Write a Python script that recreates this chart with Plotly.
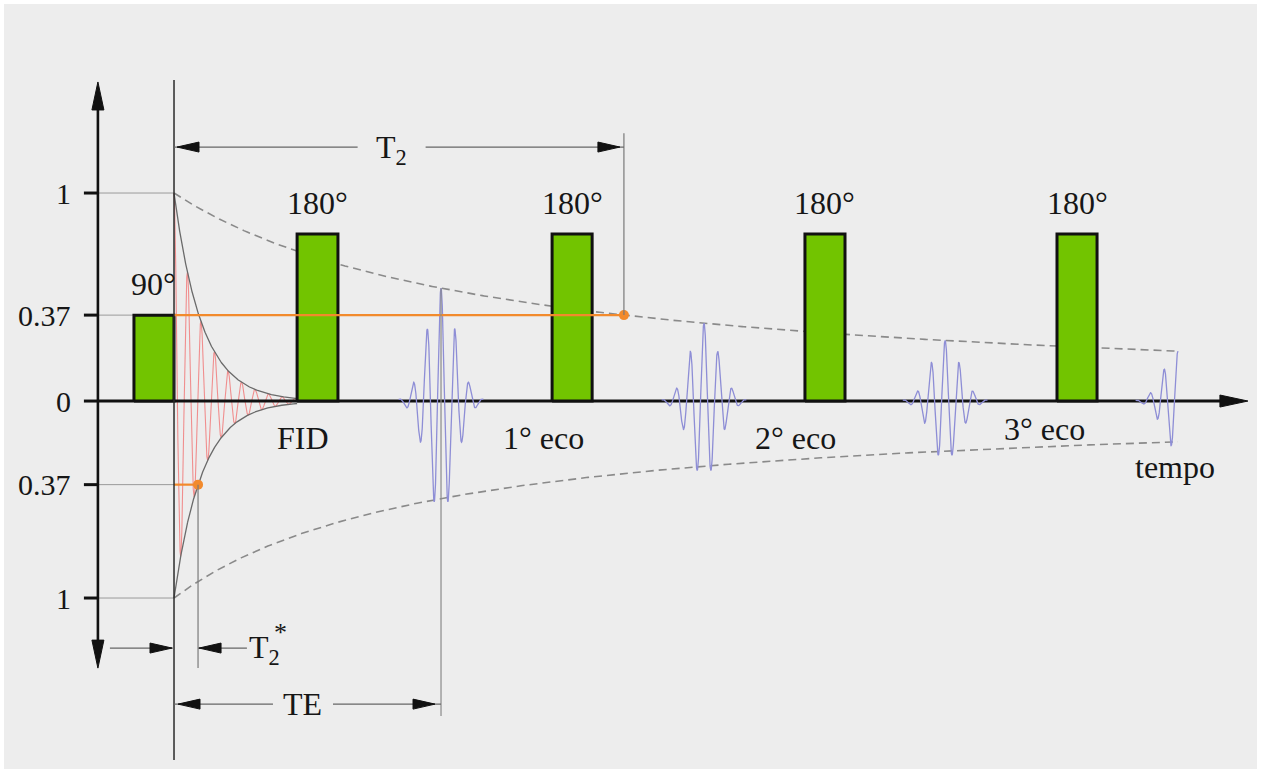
import numpy as np
import plotly.graph_objects as go

W, H = 1265, 774

# Axes: time in ms, amplitude relative to the equilibrium magnetisation
T_RANGE = (-6.517, 40.86)
A_RANGE = (-1.793, 1.928)
PX_T = (T_RANGE[1] - T_RANGE[0]) / W   # ms per screen pixel
PX_A = (A_RANGE[1] - A_RANGE[0]) / H   # amplitude per screen pixel

# RF pulses of the spin-echo train
pulse_labels = ["90°", "180°", "180°", "180°", "180°"]
pulse_start = [-1.50, 4.61, 14.16, 23.63, 33.07]
pulse_end = [0.00, 6.14, 15.66, 25.13, 34.57]
pulse_height = [0.413, 0.803, 0.803, 0.803, 0.803]

# signals
echo_labels = ["FID", "1° eco", "2° eco", "3° eco"]
echo_label_t = [4.83, 13.82, 23.26, 32.62]
echo_label_a = [-0.178, -0.178, -0.178, -0.135]
echo_center = [10.0, 19.85, 28.88, 37.6]

# characteristic times (ms)
TE = 10.0
T2 = 16.85
T2_star = 0.90
t_end = 37.6

# decay shape parameters
env_up_b = 11.86
env_lo_b = 9.81
env_lo_amp = 0.947
fid_tau = 1.05
fid_period = 0.506
echo_sigma = 0.547
echo_period = 0.524

level_labels = ["1", "0.37", "0", "0.37", "1"]

GREEN = "#72c400"
ORANGE = "#f28a2c"
RED = "#f08e8e"
BLUE = "#8e8ed6"
GRAY = "#8a8a8a"
FONT = "Times New Roman, Liberation Serif, DejaVu Serif, serif"


def env_up(t):
    return 1.0 / (1.0 + np.asarray(t) / env_up_b)


def env_lo(t):
    return -env_lo_amp / (1.0 + np.asarray(t) / env_lo_b)


def fid_up(t):
    return np.exp(-np.asarray(t) / fid_tau)


def fid_lo(t):
    return -env_lo_amp * np.exp(-np.asarray(t) / fid_tau)


level_pos = [1.0, float(env_up(T2)), 0.0, float(fid_lo(T2_star)), -env_lo_amp]

fig = go.Figure()


def line(xs, ys, color, width, dash=None):
    fig.add_trace(go.Scatter(x=xs, y=ys, mode="lines",
                             line=dict(color=color, width=width, dash=dash),
                             hoverinfo="skip", showlegend=False))


def arrowhead(tip_t, tip_a, direction, length_px=22, half_px=5, color="#111"):
    """Filled triangle; direction is 'left', 'right', 'up' or 'down'."""
    L_t, L_a = length_px * PX_T, length_px * PX_A
    h_t, h_a = half_px * PX_T, half_px * PX_A
    if direction == "left":
        xs = [tip_t, tip_t + L_t, tip_t + L_t, tip_t]
        ys = [tip_a, tip_a + h_a, tip_a - h_a, tip_a]
    elif direction == "right":
        xs = [tip_t, tip_t - L_t, tip_t - L_t, tip_t]
        ys = [tip_a, tip_a + h_a, tip_a - h_a, tip_a]
    elif direction == "up":
        xs = [tip_t, tip_t - h_t, tip_t + h_t, tip_t]
        ys = [tip_a, tip_a - L_a, tip_a - L_a, tip_a]
    else:
        xs = [tip_t, tip_t - h_t, tip_t + h_t, tip_t]
        ys = [tip_a, tip_a + L_a, tip_a + L_a, tip_a]
    fig.add_trace(go.Scatter(x=xs, y=ys, mode="lines", fill="toself",
                             fillcolor=color, line=dict(color=color, width=1),
                             hoverinfo="skip", showlegend=False))


axis_t = -2.85          # position of the vertical amplitude axis
tick_len = 14 * PX_T

# thin guide lines from the amplitude axis to t = 0
for lv in level_pos:
    if lv != 0:
        line([axis_t, 0], [lv, lv], "#9a9a9a", 1)

# T2 decay envelopes (dashed)
te = np.linspace(0, t_end, 600)
line(te, env_up(te), GRAY, 1.6, "8px,5px")
line(te, env_lo(te), GRAY, 1.6, "8px,5px")

# free induction decay
tf = np.linspace(0, pulse_start[1], 3000)
c = np.cos(2 * np.pi * tf / fid_period)
line(tf, np.where(c > 0, fid_up(tf) * c, -fid_lo(tf) * c), RED, 1.1)
line(tf, fid_up(tf), "#6a6a6a", 1.3)
line(tf, fid_lo(tf), "#6a6a6a", 1.3)

# baseline (time axis)
x_tip = 40.22
line([axis_t, x_tip - 20 * PX_T], [0, 0], "#111", 3)
arrowhead(x_tip, 0, "right", 28, 6)

# spin echoes
for k, tc in enumerate(echo_center):
    amp = float(env_up(tc))
    lo = -2.9 * echo_sigma
    hi = 0.0 if k == len(echo_center) - 1 else 2.9 * echo_sigma
    dt = np.linspace(lo, hi, 800)
    y = amp * np.exp(-dt ** 2 / (2 * echo_sigma ** 2)) * np.cos(2 * np.pi * dt / echo_period)
    line(tc + dt, y, BLUE, 1.3)

# RF pulses
for s, e, h in zip(pulse_start, pulse_end, pulse_height):
    fig.add_trace(go.Scatter(x=[s, s, e, e, s], y=[0, h, h, 0, 0], mode="lines",
                             fill="toself", fillcolor=GREEN,
                             line=dict(color="#111", width=3),
                             hoverinfo="skip", showlegend=False))

# T2 and T2* markers
line([0, T2], [level_pos[1], level_pos[1]], ORANGE, 2.2)
line([0, T2_star], [level_pos[3], level_pos[3]], ORANGE, 2.2)
fig.add_trace(go.Scatter(x=[T2, T2_star], y=[level_pos[1], level_pos[3]], mode="markers",
                         marker=dict(color=ORANGE, size=10), hoverinfo="skip",
                         showlegend=False))

# vertical reference lines
line([0, 0], [1.543, -1.726], "#2a2a2a", 1.5)
line([T2, T2], [level_pos[1], 1.288], "#7a7a7a", 1.2)
line([T2_star, T2_star], [level_pos[3], -1.284], "#7a7a7a", 1.2)
line([TE, TE], [float(env_up(TE)), -1.514], "#8a8a8a", 1.2)

# amplitude axis with arrows at both ends
y_top, y_bot = 1.534, -1.284
line([axis_t, axis_t], [y_top - 20 * PX_A, y_bot + 20 * PX_A], "#111", 2.6)
arrowhead(axis_t, y_top, "up", 28, 6)
arrowhead(axis_t, y_bot, "down", 28, 6)
for lv in level_pos:
    line([axis_t - tick_len, axis_t], [lv, lv], "#111", 3)

# dimension lines: T2, T2*, TE
a_t2 = 1.221
t2_text_t = 8.15
gap = 34 * PX_T
line([0, t2_text_t - gap], [a_t2, a_t2], "#666", 1.3)
line([t2_text_t + gap, T2], [a_t2, a_t2], "#666", 1.3)
arrowhead(0 + 3 * PX_T, a_t2, "left")
arrowhead(T2 - 4 * PX_T, a_t2, "right")

a_t2s = -1.1875
line([-2.4, 0], [a_t2s, a_t2s], "#666", 1.3)
line([T2_star, 2.73], [a_t2s, a_t2s], "#666", 1.3)
arrowhead(0 - 2 * PX_T, a_t2s, "right")
arrowhead(T2_star + 1 * PX_T, a_t2s, "left")

a_te = -1.457
te_text_t = 4.83
gap_te = 30 * PX_T
line([0, te_text_t - gap_te], [a_te, a_te], "#666", 1.3)
line([te_text_t + gap_te, TE], [a_te, a_te], "#666", 1.3)
arrowhead(0 + 4 * PX_T, a_te, "left")
arrowhead(TE - 6 * PX_T, a_te, "right")

# text labels
ann = []


def label(t, a, text, size=32, xanchor="center"):
    ann.append(dict(x=t, y=a, xref="x", yref="y", text=text, showarrow=False,
                    xanchor=xanchor, yanchor="middle",
                    font=dict(family=FONT, size=size, color="#161616")))


for s, e, h, txt in zip(pulse_start, pulse_end, pulse_height, pulse_labels):
    label((s + e) / 2, h + 0.148, txt)
for t, a, txt in zip(echo_label_t, echo_label_a, echo_labels):
    label(t, a, txt)
label(37.49, -0.317, "tempo")
for lv, txt in zip(level_pos, level_labels):
    label(-3.80, lv, txt, size=30, xanchor="right")
label(t2_text_t, a_t2 - 0.01, "T<sub>2</sub>")
label(te_text_t, a_te, "TE")
label(3.40, a_t2s - 0.005, "T<sub>2</sub>")
label(3.98, a_t2s + 0.075, "*", size=26)

fig.update_layout(
    width=W, height=H,
    margin=dict(l=0, r=0, t=0, b=0),
    paper_bgcolor="#ffffff",
    plot_bgcolor="rgba(0,0,0,0)",
    font=dict(family=FONT),
    xaxis=dict(range=list(T_RANGE), visible=False, fixedrange=True),
    yaxis=dict(range=list(A_RANGE), visible=False, fixedrange=True),
    annotations=ann,
    shapes=[dict(type="rect", xref="paper", yref="paper",
                 x0=4 / W, x1=1257 / W, y0=1 - 769 / H, y1=1 - 4 / H,
                 fillcolor="#ededed", line=dict(width=0), layer="below")],
    showlegend=False,
)

fig.write_html("out.html")
